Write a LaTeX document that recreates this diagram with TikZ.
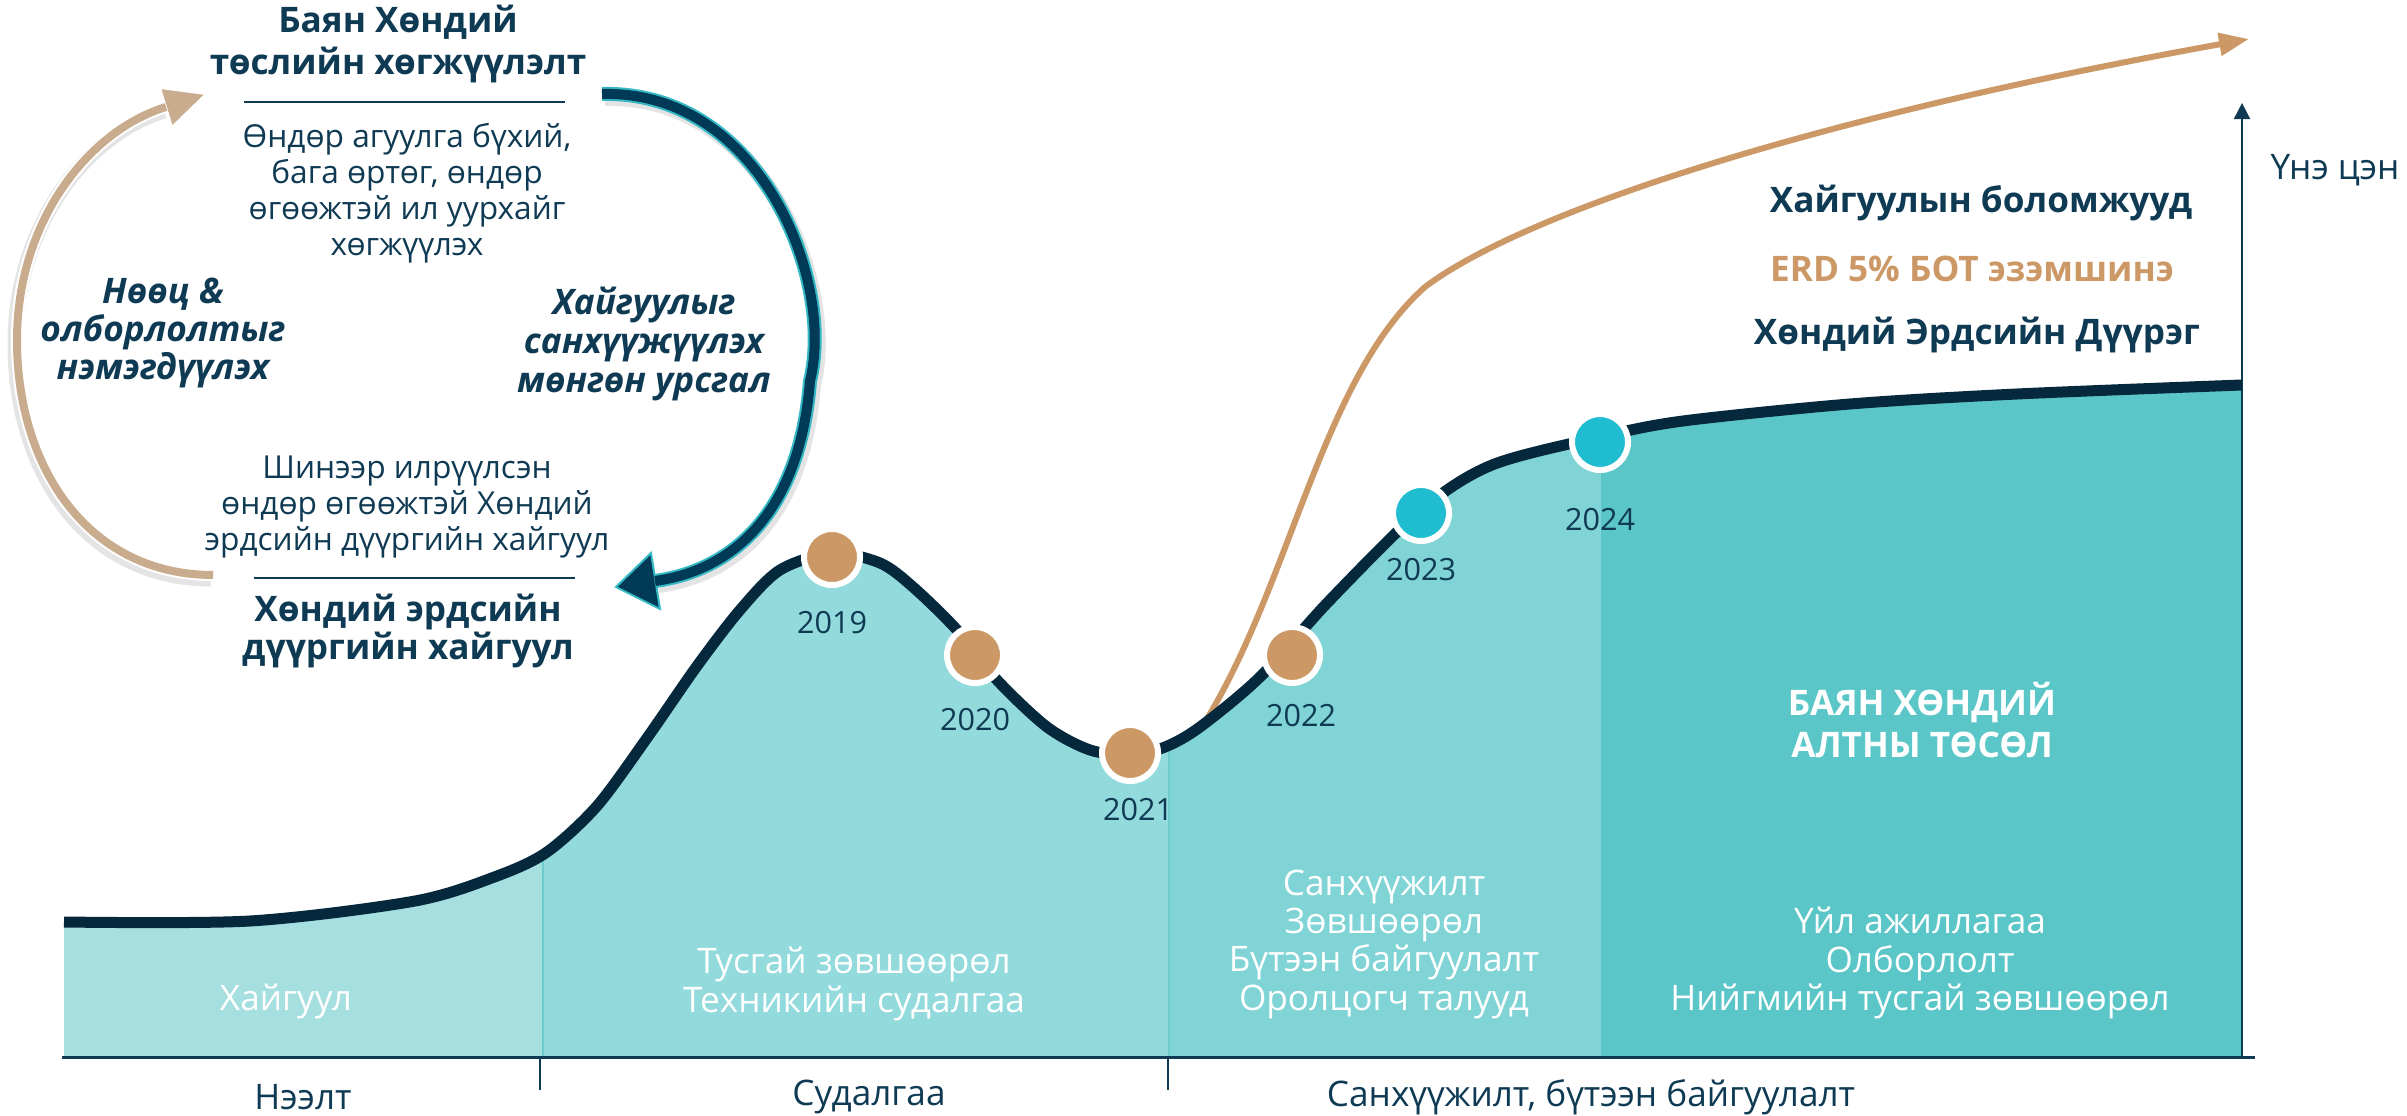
\documentclass[tikz,border=0pt]{standalone}
\usepackage{fontspec}
\setmainfont{Open Sans}
\usetikzlibrary{arrows.meta}
\definecolor{navy}{HTML}{05283D}
\definecolor{txtnavy}{HTML}{0F3A54}
\definecolor{sA}{HTML}{A6DFE0}
\definecolor{sB}{HTML}{92DADC}
\definecolor{sC}{HTML}{80D4D6}
\definecolor{sD}{HTML}{5BC6C8}
\definecolor{gold}{HTML}{CC9966}
\definecolor{tealdot}{HTML}{20BCD0}
\definecolor{tanc}{HTML}{C9AB8E}
\definecolor{arrnavy}{HTML}{003A57}
\definecolor{arrteal}{HTML}{34B9C4}
\definecolor{sepc}{HTML}{6FCBCF}
\begin{document}
\begin{tikzpicture}[x=0.01cm,y=-0.01cm,
  title/.style={font=\bfseries\fontsize{10}{12}\selectfont, text=txtnavy, align=center, inner sep=0},
  body/.style={font=\fontsize{9}{10.2}\selectfont, text=txtnavy, align=center, inner sep=0},
  bodyb/.style={font=\fontsize{9}{10.25}\selectfont, text=txtnavy, align=center, inner sep=0},
  bil/.style={font=\bfseries\itshape\fontsize{10}{10.7}\selectfont, text=txtnavy, align=center, inner sep=0},
  bir/.style={font=\bfseries\itshape\fontsize{10}{11.1}\selectfont, text=txtnavy, align=center, inner sep=0},
  rtitle/.style={font=\bfseries\fontsize{10}{12}\selectfont, text=txtnavy, inner sep=0},
  sect/.style={font=\fontsize{10}{10.9}\selectfont, text=white, align=center, inner sep=0},
  phase/.style={font=\fontsize{10}{12}\selectfont, text=txtnavy, inner sep=0},
  yr/.style={font=\fontsize{8.7}{10}\selectfont, text=txtnavy, inner sep=0},
  dot/.style={circle, minimum size=0.56cm, inner sep=0, line width=0.06cm, draw=white}]
\useasboundingbox (0,0) rectangle (2407,1116);
\def\curve{plot[smooth,tension=0.5] coordinates {(64,922) (250,921) (415,901) (497,876) (547,852) (597,806) (647,738) (697,666) (740,610) (780,570) (832,553) (880,563) (913,587) (957,630) (997,680) (1047,727) (1090,750) (1130,755) (1165,747) (1200,727) (1260,677) (1330,600) (1421,510) (1492,465) (1600,437) (1683,421) (1850,404) (2017,394) (2242,385)}}
% section fills
\foreach \xa/\xb/\cc in {64/543/sA, 543/1170/sB, 1170/1601/sC, 1601/2243/sD}{
  \begin{scope}
    \clip (\xa,0) rectangle (\xb,1057);
    \fill[\cc] \curve -- (2242,1057) -- (64,1057) -- cycle;
  \end{scope}
}
\draw[sepc, line width=0.02cm] (543,850) -- (543,1057);
\draw[sepc, line width=0.02cm] (1169,745) -- (1169,1057);
% baseline and dividers
\coordinate (bl) at (62,1057);
\coordinate (br) at (2255,1057);
\draw[txtnavy, line width=0.03cm] (bl) -- (br);
\coordinate (d1a) at (540,1057); \coordinate (d1b) at (540,1090);
\coordinate (d2a) at (1168,1057); \coordinate (d2b) at (1168,1090);
\draw[txtnavy, line width=0.015cm] (d1a) -- (d1b);
\draw[txtnavy, line width=0.015cm] (d2a) -- (d2b);
% value axis
\coordinate (axb) at (2242,1057);
\coordinate (axt) at (2242,103);
\draw[txtnavy, line width=0.018cm, -{Triangle[length=0.16cm,width=0.16cm]}] (axb) -- (axt);
% growth arrow
\coordinate (gS) at (1200,730);
\coordinate (gK) at (1425,287);
\coordinate (gT) at (2249,39);
\draw[gold, line width=0.06cm, -{Triangle[length=0.3cm,width=0.22cm]}] (gS) .. controls (1290,590) and (1320,380) .. (gK) .. controls (1520,215) and (1800,120) .. (gT);
% main curve
\draw[navy, line width=0.11cm] \curve;
% dots
\node[dot, fill=gold] (c2019) at (832,557) {};
\node[dot, fill=gold] (c2020) at (975,655) {};
\node[dot, fill=gold] (c2021) at (1130,753) {};
\node[dot, fill=gold] (c2022) at (1292,655) {};
\node[dot, fill=tealdot] (c2023) at (1421,513) {};
\node[dot, fill=tealdot] (c2024) at (1600,442) {};
\node[yr] (y2019) at (832,623) {2019};
\node[yr] (y2020) at (975,720) {2020};
\node[yr] (y2021) at (1138,810) {2021};
\node[yr] (y2022) at (1301,716) {2022};
\node[yr] (y2023) at (1421,570) {2023};
\node[yr] (y2024) at (1600,520) {2024};
% section texts
\node[sect] (tA) at (286,1001) {Хайгуул};
\node[sect] (tB) at (854,984) {Тусгай зөвшөөрөл\\Техникийн судалгаа};
\node[sect] (tC) at (1384,944) {Санхүүжилт\\Зөвшөөрөл\\Бүтээн байгуулалт\\Оролцогч талууд};
\node[sect] (tD) at (1920,963) {Үйл ажиллагаа\\Олборлолт\\Нийгмийн тусгай зөвшөөрөл};
\node[font=\bfseries\fontsize{10}{11.7}\selectfont, text=white, align=center, inner sep=0] (proj) at (1922,720) {БАЯН ХӨНДИЙ\\АЛТНЫ ТӨСӨЛ};
% phase labels
\node[phase] (p1) at (303,1097) {Нээлт};
\node[phase] (p2) at (869,1097) {Судалгаа};
\node[phase] (p3) at (1591,1097) {Санхүүжилт, бүтээн байгуулалт};
% right texts
\node[rtitle] (r1) at (1981,203) {Хайгуулын боломжууд};
\node[rtitle, text=gold] (r2) at (1972,269) {ERD 5\% БОТ эзэмшинэ};
\node[rtitle] (r3) at (1977,335) {Хөндий Эрдсийн Дүүрэг};
\node[phase] (val) at (2335,170) {Үнэ цэн};
% left cycle texts
\node[title] (top) at (398,44) {Баян Хөндий\\төслийн хөгжүүлэлт};
\coordinate (l1a) at (244,102); \coordinate (l1b) at (565,102);
\draw[txtnavy, line width=0.015cm] (l1a) -- (l1b);
\node[body] (b1) at (407,193) {Өндөр агуулга бүхий,\\бага өртөг, өндөр\\өгөөжтэй ил уурхайг\\хөгжүүлэх};
\node[bil] (lft) at (163,333) {Нөөц \&\\олборлолтыг\\нэмэгдүүлэх};
\node[bir] (rgt) at (644,344) {Хайгуулыг\\санхүүжүүлэх\\мөнгөн урсгал};
\node[bodyb] (b2) at (407,507) {Шинээр илрүүлсэн\\өндөр өгөөжтэй Хөндий\\эрдсийн дүүргийн хайгуул};
\coordinate (l2a) at (254,578); \coordinate (l2b) at (575,578);
\draw[txtnavy, line width=0.015cm] (l2a) -- (l2b);
\node[title, font=\bfseries\fontsize{10}{10.8}\selectfont] (bot) at (408,631) {Хөндий эрдсийн\\дүүргийн хайгуул};
% tan cycle arrow (left)
\coordinate (tanS) at (213,575);
\coordinate (tanB) at (166,107);
\coordinate (tanT) at (206,94);
\coordinate (tanC1) at (172,127);
\coordinate (tanC2) at (160,88);
\draw[black!30, opacity=0.35, line width=0.15cm] ([shift={(-2,4)}]tanS) .. controls (88,579) and (15,474) .. (15,344) .. controls (15,224) and (88,134) .. ([shift={(-2,4)}]tanB);
\draw[white, line width=0.12cm] (tanS) .. controls (90,575) and (17,470) .. (17,340) .. controls (17,220) and (90,130) .. (tanB);
\filldraw[fill=tanc, draw=white, line width=0.02cm, line join=miter] (tanT) -- (tanC1) -- (tanC2) -- cycle;
\draw[tanc, line width=0.08cm] (tanS) .. controls (90,575) and (17,470) .. (17,340) .. controls (17,220) and (90,130) .. (tanB);
% navy cycle arrow (right)
\coordinate (nvS) at (602,94);
\coordinate (nvB) at (655,581);
\coordinate (nvT) at (616,587);
\coordinate (nvC1) at (660,609);
\coordinate (nvC2) at (651,553);
\draw[black!30, opacity=0.35, line width=0.16cm] ([shift={(3,4)}]nvS) .. controls (763,94) and (838,284) .. (813,385) .. controls (803,514) and (738,574) .. ([shift={(3,4)}]nvB);
\draw[arrteal, line width=0.14cm] (nvS) .. controls (760,90) and (835,280) .. (810,381) .. controls (800,510) and (735,570) .. (nvB);
\filldraw[fill=arrnavy, draw=arrteal, line width=0.02cm, line join=miter] (nvT) -- (nvC1) -- (nvC2) -- cycle;
\draw[arrnavy, line width=0.10cm] (nvS) .. controls (760,90) and (835,280) .. (810,381) .. controls (800,510) and (735,570) .. (nvB);
\end{tikzpicture}
\end{document}
